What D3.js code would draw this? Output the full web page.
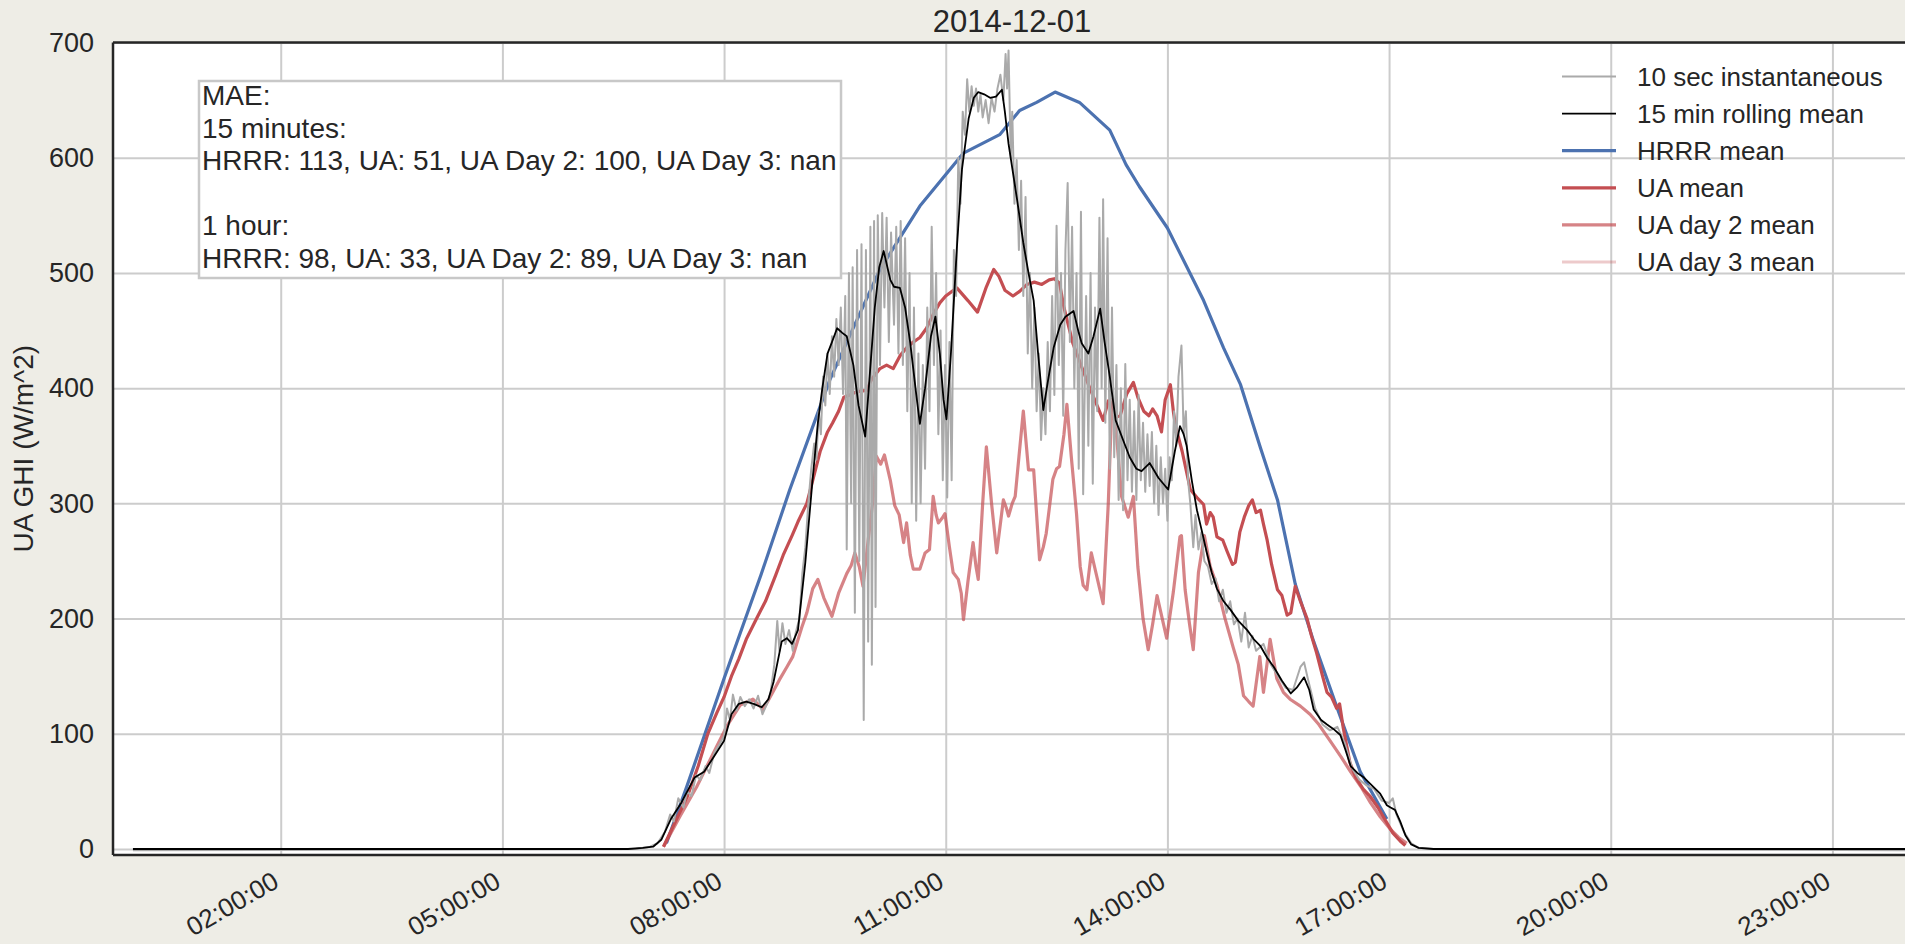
<!DOCTYPE html>
<head>
  <meta charset="utf-8">
  <script src="https://d3js.org/d3.v7.min.js"></script>
  <style>
    body { margin: 0; background: #eeede6; overflow: hidden; }
    svg { display: block; font-family: "Liberation Sans", Arial, sans-serif; }
  </style>
</head>
<body>
  <svg width="1905" height="944"></svg>
  <script>
    // chart values (time in decimal hours of 2014-12-01)
    var title = "2014-12-01";
    var yLabel = "UA GHI (W/m^2)";
    var yTicks = [0, 100, 200, 300, 400, 500, 600, 700];
    var xTickLabels = ["02:00:00", "05:00:00", "08:00:00", "11:00:00", "14:00:00", "17:00:00", "20:00:00", "23:00:00"];
    var seriesNames = ["10 sec instantaneous", "15 min rolling mean", "HRRR mean", "UA mean", "UA day 2 mean", "UA day 3 mean"];
    var maeLines = ["MAE:", "15 minutes:", "HRRR: 113, UA: 51, UA Day 2: 100, UA Day 3: nan", "", "1 hour:", "HRRR: 98, UA: 33, UA Day 2: 89, UA Day 3: nan"];

    var instant = [[0, -1], [6.8, 0], [7.0, 2], [7.1, 5], [7.2, 15], [7.27, 30], [7.32, 24], [7.38, 44], [7.45, 36], [7.5, 50], [7.56, 46], [7.62, 64], [7.68, 60], [7.75, 72], [7.8, 66], [7.87, 84], [7.93, 90], [8.0, 98], [8.04, 122], [8.08, 112], [8.12, 134], [8.17, 120], [8.22, 132], [8.28, 124], [8.34, 130], [8.4, 122], [8.46, 133], [8.52, 117], [8.58, 126], [8.63, 136], [8.68, 160], [8.72, 198], [8.75, 172], [8.79, 196], [8.83, 178], [8.88, 190], [8.93, 172], [8.97, 188], [9.02, 200], [9.06, 240], [9.1, 262], [9.14, 300], [9.18, 330], [9.22, 352], [9.25, 338], [9.28, 380], [9.31, 360], [9.34, 410], [9.37, 385], [9.4, 430], [9.43, 395], [9.46, 445], [9.49, 410], [9.52, 460], [9.55, 420], [9.58, 470], [9.61, 395], [9.64, 480], [9.66, 260], [9.69, 500], [9.72, 300], [9.74, 505], [9.77, 205], [9.8, 520], [9.83, 250], [9.86, 525], [9.89, 112], [9.92, 520], [9.95, 180], [9.98, 540], [10.0, 160], [10.03, 545], [10.05, 210], [10.08, 550], [10.11, 420], [10.14, 552], [10.17, 470], [10.2, 548], [10.23, 440], [10.26, 535], [10.3, 455], [10.33, 540], [10.36, 430], [10.39, 545], [10.42, 420], [10.45, 530], [10.48, 380], [10.51, 500], [10.54, 300], [10.57, 470], [10.6, 285], [10.63, 430], [10.66, 300], [10.69, 420], [10.72, 330], [10.75, 470], [10.78, 380], [10.81, 540], [10.84, 420], [10.87, 500], [10.9, 360], [10.93, 450], [10.96, 320], [10.99, 420], [11.02, 305], [11.05, 440], [11.08, 320], [11.11, 520], [11.14, 480], [11.17, 600], [11.2, 560], [11.23, 640], [11.26, 620], [11.29, 668], [11.32, 640], [11.35, 662], [11.38, 645], [11.41, 660], [11.44, 640], [11.47, 655], [11.5, 635], [11.54, 650], [11.58, 630], [11.62, 652], [11.66, 640], [11.7, 660], [11.74, 672], [11.78, 650], [11.81, 690], [11.83, 660], [11.85, 693], [11.88, 600], [11.9, 640], [11.93, 560], [11.96, 598], [11.99, 520], [12.02, 580], [12.05, 480], [12.08, 566], [12.11, 430], [12.14, 500], [12.17, 400], [12.2, 470], [12.23, 380], [12.26, 430], [12.29, 355], [12.32, 400], [12.35, 360], [12.38, 440], [12.41, 380], [12.44, 480], [12.47, 394], [12.5, 541], [12.53, 420], [12.56, 500], [12.59, 376], [12.62, 520], [12.65, 578], [12.68, 440], [12.71, 540], [12.74, 400], [12.77, 500], [12.8, 330], [12.83, 553], [12.86, 308], [12.9, 480], [12.93, 350], [12.96, 500], [12.99, 317], [13.02, 470], [13.05, 380], [13.08, 548], [13.11, 400], [13.13, 564], [13.16, 370], [13.19, 530], [13.22, 330], [13.25, 470], [13.28, 340], [13.31, 420], [13.34, 303], [13.37, 400], [13.4, 294], [13.43, 421], [13.46, 320], [13.49, 390], [13.52, 310], [13.55, 380], [13.58, 303], [13.61, 394], [13.64, 320], [13.67, 370], [13.7, 310], [13.73, 360], [13.76, 315], [13.79, 362], [13.82, 300], [13.85, 350], [13.88, 290], [13.91, 340], [13.94, 300], [13.97, 330], [14.0, 285], [14.03, 340], [14.06, 320], [14.09, 380], [14.12, 350], [14.15, 410], [14.19, 437], [14.22, 360], [14.25, 380], [14.28, 320], [14.31, 300], [14.35, 262], [14.38, 290], [14.42, 260], [14.46, 275], [14.5, 250], [14.55, 245], [14.6, 230], [14.65, 235], [14.7, 215], [14.75, 225], [14.8, 205], [14.85, 215], [14.9, 195], [14.95, 200], [15.0, 180], [15.05, 205], [15.1, 175], [15.15, 185], [15.2, 172], [15.3, 178], [15.4, 160], [15.5, 150], [15.6, 140], [15.7, 138], [15.8, 158], [15.85, 162], [15.9, 148], [16.0, 122], [16.1, 108], [16.2, 103], [16.3, 106], [16.4, 92], [16.5, 70], [16.6, 60], [16.7, 55], [16.8, 52], [16.9, 42], [17.0, 40], [17.05, 44], [17.1, 30], [17.2, 15], [17.3, 5], [17.4, 1], [17.6, 0], [24, -1]];

    var rolling = [[0, 0], [6.7, 0], [6.9, 1], [7.04, 2], [7.15, 8], [7.28, 26], [7.42, 40], [7.6, 62], [7.73, 67], [7.87, 81], [8.0, 94], [8.1, 117], [8.2, 126], [8.3, 128], [8.4, 126], [8.51, 123], [8.6, 130], [8.67, 145], [8.78, 180], [8.85, 183], [8.92, 178], [9.0, 190], [9.1, 249], [9.19, 315], [9.27, 370], [9.33, 400], [9.4, 430], [9.46, 440], [9.53, 452], [9.6, 448], [9.66, 445], [9.75, 420], [9.82, 385], [9.91, 358], [9.97, 410], [10.04, 470], [10.1, 505], [10.16, 519], [10.25, 494], [10.3, 488], [10.38, 487], [10.45, 470], [10.52, 439], [10.6, 395], [10.65, 369], [10.72, 400], [10.8, 445], [10.86, 462], [10.92, 430], [10.97, 390], [11.01, 373], [11.07, 430], [11.15, 521], [11.22, 590], [11.31, 634], [11.38, 652], [11.44, 657], [11.52, 655], [11.6, 652], [11.68, 653], [11.76, 659], [11.8, 640], [11.85, 612], [11.96, 566], [12.05, 526], [12.12, 500], [12.19, 476], [12.25, 430], [12.32, 381], [12.38, 405], [12.46, 435], [12.55, 455], [12.62, 462], [12.73, 467], [12.8, 448], [12.84, 439], [12.93, 430], [13.0, 445], [13.09, 469], [13.15, 440], [13.22, 410], [13.3, 372], [13.4, 355], [13.49, 340], [13.58, 330], [13.65, 328], [13.76, 335], [13.88, 322], [14.01, 312], [14.1, 345], [14.17, 367], [14.22, 360], [14.26, 350], [14.33, 320], [14.4, 294], [14.47, 275], [14.53, 258], [14.6, 240], [14.67, 226], [14.76, 215], [14.85, 208], [14.96, 198], [15.08, 190], [15.17, 182], [15.26, 176], [15.35, 166], [15.44, 158], [15.55, 146], [15.67, 135], [15.75, 140], [15.85, 149], [15.92, 138], [15.98, 121], [16.08, 112], [16.16, 108], [16.25, 104], [16.34, 99], [16.41, 86], [16.48, 72], [16.57, 66], [16.66, 62], [16.77, 55], [16.88, 48], [16.97, 38], [17.02, 36], [17.08, 34], [17.15, 24], [17.22, 12], [17.3, 4], [17.4, 1], [17.6, 0], [24, 0]];

    var hrrr = [[7.22, 5], [7.5, 55], [8.0, 148], [8.5, 238], [8.89, 312], [9.43, 407], [9.74, 451], [10.11, 503], [10.65, 558], [11.24, 604], [11.73, 620], [12.0, 641], [12.23, 648], [12.48, 657], [12.81, 648], [13.22, 624], [13.44, 594], [13.62, 575], [14.0, 539], [14.49, 476], [14.76, 435], [14.99, 403], [15.26, 348], [15.49, 303], [15.73, 230], [15.98, 180], [16.3, 122], [16.61, 67], [16.97, 26]];

    var uaMean = [[7.18, 2], [7.35, 25], [7.5, 45], [7.65, 72], [7.78, 100], [7.9, 118], [8.0, 132], [8.1, 150], [8.2, 165], [8.3, 182], [8.44, 200], [8.56, 215], [8.7, 238], [8.8, 255], [8.92, 272], [9.0, 284], [9.12, 300], [9.2, 320], [9.3, 345], [9.4, 362], [9.47, 370], [9.55, 380], [9.62, 392], [9.7, 394], [9.8, 397], [9.93, 398], [10.0, 408], [10.11, 417], [10.2, 420], [10.29, 417], [10.38, 428], [10.47, 435], [10.56, 440], [10.65, 444], [10.74, 452], [10.83, 464], [10.92, 474], [11.0, 480], [11.15, 487], [11.3, 476], [11.43, 466], [11.55, 488], [11.65, 503], [11.72, 497], [11.8, 485], [11.91, 480], [12.0, 484], [12.1, 490], [12.2, 492], [12.3, 490], [12.4, 494], [12.47, 495], [12.54, 491], [12.6, 470], [12.72, 439], [12.86, 415], [12.95, 400], [13.08, 380], [13.13, 372], [13.2, 389], [13.24, 387], [13.31, 375], [13.36, 376], [13.45, 395], [13.54, 405], [13.6, 392], [13.68, 380], [13.75, 376], [13.8, 382], [13.86, 376], [13.92, 362], [13.97, 390], [14.04, 403], [14.08, 380], [14.11, 367], [14.2, 345], [14.31, 312], [14.4, 305], [14.49, 299], [14.53, 282], [14.58, 292], [14.62, 288], [14.67, 271], [14.75, 268], [14.81, 258], [14.88, 247], [14.92, 249], [14.98, 275], [15.04, 288], [15.1, 298], [15.15, 303], [15.2, 292], [15.26, 294], [15.3, 282], [15.35, 268], [15.41, 247], [15.49, 225], [15.55, 220], [15.62, 203], [15.67, 205], [15.73, 228], [15.8, 215], [15.89, 200], [15.95, 185], [16.02, 170], [16.1, 150], [16.16, 136], [16.22, 132], [16.29, 122], [16.33, 126], [16.38, 105], [16.47, 75], [16.55, 62], [16.65, 52], [16.74, 46], [16.85, 36], [16.95, 25], [17.05, 14], [17.15, 7], [17.22, 3]];

    var uaDay2 = [[7.18, 2], [7.4, 28], [7.63, 54], [7.9, 89], [8.05, 108], [8.22, 125], [8.39, 130], [8.53, 121], [8.65, 135], [8.75, 147], [8.85, 158], [8.93, 167], [9.05, 192], [9.12, 205], [9.2, 226], [9.27, 234], [9.35, 218], [9.46, 202], [9.55, 222], [9.66, 239], [9.72, 246], [9.77, 257], [9.83, 245], [9.88, 228], [9.95, 268], [10.01, 300], [10.06, 341], [10.12, 334], [10.17, 342], [10.25, 320], [10.31, 298], [10.37, 290], [10.43, 266], [10.47, 283], [10.52, 255], [10.56, 243], [10.65, 243], [10.72, 257], [10.78, 260], [10.83, 306], [10.87, 290], [10.9, 283], [10.95, 287], [10.99, 291], [11.05, 262], [11.1, 240], [11.17, 234], [11.21, 222], [11.24, 199], [11.3, 232], [11.37, 266], [11.41, 245], [11.44, 234], [11.5, 300], [11.55, 349], [11.62, 300], [11.69, 257], [11.78, 303], [11.82, 296], [11.85, 289], [11.9, 300], [11.94, 306], [11.99, 340], [12.05, 380], [12.12, 329], [12.19, 329], [12.27, 251], [12.32, 262], [12.36, 274], [12.41, 300], [12.45, 321], [12.5, 330], [12.54, 332], [12.6, 360], [12.64, 386], [12.7, 340], [12.77, 291], [12.82, 245], [12.86, 229], [12.91, 225], [12.97, 257], [13.05, 235], [13.13, 213], [13.2, 300], [13.25, 390], [13.31, 360], [13.38, 306], [13.47, 288], [13.54, 306], [13.6, 245], [13.67, 200], [13.74, 173], [13.8, 195], [13.86, 220], [13.93, 200], [13.99, 183], [14.08, 223], [14.17, 271], [14.19, 272], [14.24, 225], [14.3, 195], [14.35, 173], [14.42, 240], [14.5, 272], [14.58, 245], [14.67, 229], [14.78, 200], [14.89, 175], [14.96, 160], [15.03, 133], [15.1, 128], [15.16, 124], [15.25, 167], [15.3, 136], [15.39, 182], [15.48, 148], [15.57, 136], [15.66, 130], [15.8, 124], [15.93, 117], [16.05, 108], [16.2, 94], [16.35, 80], [16.48, 67], [16.62, 54], [16.75, 40], [16.88, 28], [17.02, 17], [17.13, 10], [17.24, 5]];

    var uaDay3 = []; // all nan on this day

    var colors = ["#aaaaaa", "#000000", "#4c72b0", "#c44e52", "#c44e52", "#c44e52"];
    var opacities = [1, 1, 1, 1, 0.7, 0.3];
    var widths = [2, 1.8, 3.2, 3.2, 3.2, 3.2];

    var svg = d3.select("svg");
    var plot = { left: 113, right: 1910, top: 42.5, bottom: 855 };

    var day0 = Date.UTC(2014, 11, 1);
    function toDate(h) { return new Date(day0 + h * 3600e3); }
    var parseTick = d3.utcParse("%Y-%m-%d %H:%M:%S");
    var xTickDates = xTickLabels.map(function (s) { return parseTick(title + " " + s); });

    var x = d3.scaleUtc()
      .domain([toDate(-0.27), toDate(24.05)])
      .range([plot.left, plot.right]);
    var y = d3.scaleLinear()
      .domain([-5.2, 700])
      .range([plot.bottom, plot.top]);

    svg.append("defs").append("clipPath").attr("id", "clip")
      .append("rect")
      .attr("x", plot.left).attr("y", plot.top)
      .attr("width", plot.right - plot.left).attr("height", plot.bottom - plot.top);

    svg.append("rect")
      .attr("x", plot.left).attr("y", plot.top)
      .attr("width", plot.right - plot.left).attr("height", plot.bottom - plot.top)
      .attr("fill", "#ffffff");

    // grid
    var gx = svg.append("g")
      .attr("transform", "translate(0," + plot.bottom + ")")
      .call(d3.axisBottom(x).tickValues(xTickDates).tickSize(-(plot.bottom - plot.top)).tickFormat(""));
    var gy = svg.append("g")
      .attr("transform", "translate(" + plot.left + ",0)")
      .call(d3.axisLeft(y).tickValues(yTicks).tickSize(-(plot.right - plot.left)).tickFormat(""));
    [gx, gy].forEach(function (g) {
      g.select(".domain").remove();
      g.selectAll(".tick line").attr("stroke", "#cccccc").attr("stroke-width", 2);
    });

    // series
    var line = d3.line()
      .x(function (d) { return x(toDate(d[0])); })
      .y(function (d) { return y(d[1]); });

    var series = [instant, rolling, hrrr, uaMean, uaDay2, uaDay3];
    var lines = svg.append("g").attr("clip-path", "url(#clip)");
    series.forEach(function (s, i) {
      if (!s.length) return;
      lines.append("path")
        .datum(s)
        .attr("class", "s" + i)
        .attr("d", line)
        .attr("fill", "none")
        .attr("stroke", colors[i])
        .attr("stroke-opacity", opacities[i])
        .attr("stroke-width", widths[i])
        .attr("stroke-linejoin", "round");
    });
    // thin measured lines sit on top of the forecast lines
    lines.select(".s0").raise();
    lines.select(".s1").raise();

    // spines
    var spine = svg.append("g").attr("stroke", "#262626").attr("stroke-width", 2.5);
    spine.append("line").attr("x1", plot.left).attr("x2", plot.left).attr("y1", plot.top).attr("y2", plot.bottom);
    spine.append("line").attr("x1", plot.left).attr("x2", plot.right).attr("y1", plot.top).attr("y2", plot.top);
    spine.append("line").attr("x1", plot.left).attr("x2", plot.right).attr("y1", plot.bottom).attr("y2", plot.bottom);

    // axis labels
    var yAxis = svg.append("g")
      .attr("transform", "translate(" + plot.left + ",0)")
      .call(d3.axisLeft(y).tickValues(yTicks).tickSize(0).tickPadding(19));
    yAxis.select(".domain").remove();
    yAxis.selectAll("text").attr("font-size", 27).attr("fill", "#262626")
      .attr("font-family", "'Liberation Sans', Arial, sans-serif");

    var xAxis = svg.append("g")
      .attr("transform", "translate(0," + plot.bottom + ")")
      .call(d3.axisBottom(x).tickValues(xTickDates).tickSize(0).tickFormat(d3.utcFormat("%H:%M:%S")));
    xAxis.select(".domain").remove();
    xAxis.selectAll("text")
      .attr("font-size", 26).attr("fill", "#262626")
      .attr("font-family", "'Liberation Sans', Arial, sans-serif")
      .attr("text-anchor", "end")
      .attr("y", 0).attr("dy", "0.72em")
      .attr("transform", "translate(-10,15) rotate(-30)");

    svg.append("text")
      .attr("x", 1012).attr("y", 32)
      .attr("text-anchor", "middle")
      .attr("font-size", 31).attr("fill", "#262626")
      .text(title);

    svg.append("text")
      .attr("transform", "translate(33," + (plot.top + plot.bottom) / 2 + ") rotate(-90)")
      .attr("text-anchor", "middle")
      .attr("font-size", 28).attr("fill", "#262626")
      .text(yLabel);

    // MAE box
    svg.append("rect")
      .attr("x", 199).attr("y", 81).attr("width", 642).attr("height", 197)
      .attr("fill", "#ffffff").attr("stroke", "#c8c8c8").attr("stroke-width", 2.5);
    svg.append("g").selectAll("text")
      .data(maeLines).enter().append("text")
      .attr("x", 202)
      .attr("y", function (d, i) { return 105 + i * 32.5; })
      .attr("font-size", 28).attr("fill", "#262626")
      .text(function (d) { return d; });

    // legend
    var legend = svg.append("g").selectAll("g")
      .data(seriesNames).enter().append("g")
      .attr("transform", function (d, i) { return "translate(1562," + (76.5 + i * 37.1) + ")"; });
    legend.append("line")
      .attr("x1", 0).attr("x2", 54)
      .attr("stroke", function (d, i) { return colors[i]; })
      .attr("stroke-opacity", function (d, i) { return opacities[i]; })
      .attr("stroke-width", function (d, i) { return widths[i]; });
    legend.append("text")
      .attr("x", 75).attr("dy", "0.36em")
      .attr("font-size", 26).attr("fill", "#262626")
      .text(function (d) { return d; });
  </script>
</body>
